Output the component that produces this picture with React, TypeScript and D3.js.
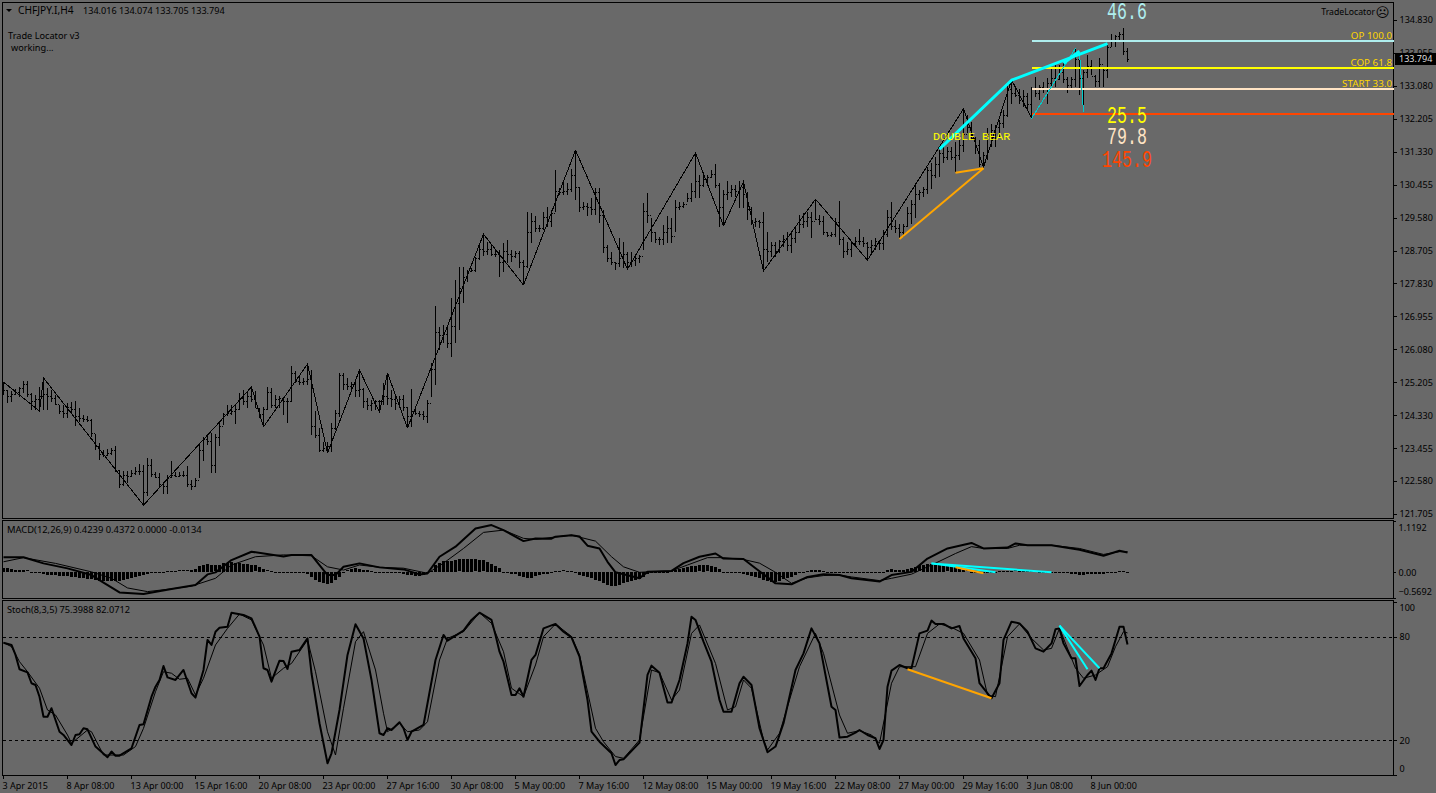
import * as d3 from "d3";
import React, { useEffect, useRef } from "react";

const WIDTH = 1436;
const HEIGHT = 793;
const BG = "#696969";
const UI_FONT = "'Noto Sans', sans-serif";
const MONO_FONT = "'Liberation Mono', monospace";

// H4 bars
const highs = [
	125.22,125.00,124.98,125.02,125.09,125.25,125.25,124.93,124.87,125.07,
	125.31,125.05,125.00,124.87,124.60,124.60,124.65,124.69,124.72,124.51,
	124.34,124.31,124.22,123.83,123.58,123.41,123.42,123.45,123.51,122.87,
	122.86,122.86,122.87,122.96,123.03,123.01,123.18,123.16,122.83,122.79,
	122.56,122.74,123.12,122.83,122.83,122.86,122.98,122.61,122.65,123.58,
	123.76,123.81,123.85,123.83,124.16,124.40,124.60,124.60,124.60,124.93,
	125.00,124.98,125.09,124.96,124.51,124.56,125.09,125.05,124.87,124.84,
	124.82,124.78,125.64,125.51,125.36,125.31,125.67,125.53,124.43,123.98,
	123.63,123.63,124.12,124.47,125.46,125.46,125.31,125.22,125.22,125.55,
	125.05,124.78,124.74,124.74,124.74,125.18,125.44,125.00,124.82,124.84,
	124.87,124.56,125.02,124.56,124.43,124.43,124.74,125.71,127.22,126.68,
	126.73,126.68,127.44,127.92,128.28,128.28,128.19,128.23,128.54,128.90,
	129.16,128.94,128.85,128.72,128.72,128.90,128.99,128.72,128.70,128.70,
	128.45,129.74,129.71,129.61,129.39,129.74,129.87,129.78,130.85,130.36,
	130.49,130.49,130.86,131.38,130.40,130.00,129.96,130.09,130.36,130.36,
	129.78,128.85,128.67,128.41,129.03,128.94,128.67,128.67,128.59,128.59,
	129.96,130.23,129.56,129.21,129.07,129.39,129.61,129.56,130.05,130.00,
	130.00,130.23,130.49,131.29,130.71,130.76,130.71,130.85,131.01,130.49,
	130.32,130.54,130.45,130.45,130.54,130.58,130.27,129.87,129.56,129.52,
	129.72,129.21,128.94,128.94,128.99,129.12,129.21,129.16,129.30,129.65,
	129.70,129.74,129.74,130.07,129.65,129.61,129.21,129.21,129.56,130.03,
	129.07,128.94,128.94,129.07,129.28,129.07,128.94,128.98,129.03,128.98,
	129.25,129.78,130.00,129.51,129.42,129.42,129.87,130.04,130.49,130.31,
	130.40,130.93,131.02,131.20,131.37,131.46,131.46,131.46,131.59,131.64,
	132.45,132.30,132.13,131.73,131.64,131.33,131.95,132.08,132.04,132.17,
	132.44,133.15,133.23,133.06,133.01,132.97,132.88,133.06,133.32,133.10,
	133.19,133.28,133.54,133.63,133.63,133.72,133.32,133.32,134.08,133.99,
	133.50,133.90,133.77,133.37,133.81,133.54,134.16,134.47,134.43,134.52,
	134.61,134.074,
];
const lows = [
	124.87,124.66,124.69,124.87,124.81,124.91,124.81,124.47,124.47,124.43,
	124.47,124.47,124.69,124.60,124.36,124.25,124.25,124.36,124.03,124.16,
	124.16,124.16,123.76,123.41,123.14,123.21,123.25,123.27,122.83,122.39,
	122.45,122.52,122.70,122.74,122.74,121.94,122.17,122.70,122.65,122.43,
	122.24,122.24,122.65,122.68,122.68,122.68,122.43,122.33,122.43,122.65,
	123.10,123.54,122.80,122.79,123.51,124.07,124.31,124.34,124.10,124.47,
	124.60,124.51,124.69,124.51,124.25,124.01,124.47,124.51,124.51,124.51,
	124.34,124.13,124.69,125.18,125.13,125.13,125.13,123.81,123.72,123.36,
	123.36,123.32,123.34,123.94,124.29,125.00,125.00,125.00,124.82,124.82,
	124.51,124.47,124.45,124.47,124.43,124.60,124.60,124.56,124.47,124.51,
	124.43,123.98,124.01,124.34,124.29,124.20,124.12,124.82,125.13,126.06,
	126.24,126.11,125.87,126.24,126.59,127.30,127.88,128.14,128.14,128.45,
	128.56,128.59,128.56,128.54,128.01,128.14,128.37,128.41,128.50,128.23,
	127.79,128.23,128.90,129.21,129.21,129.25,129.34,129.34,129.74,130.18,
	130.18,130.18,130.27,130.05,129.74,129.78,129.61,129.65,129.65,129.43,
	128.63,128.41,128.32,128.19,128.28,128.23,128.21,128.28,128.30,128.37,
	128.72,129.43,128.94,128.90,128.85,128.85,128.90,128.90,129.21,129.78,
	129.83,130.00,130.00,130.09,130.09,130.40,130.45,130.63,130.36,129.34,
	129.36,130.05,130.14,130.14,129.83,129.83,129.52,129.39,129.34,129.30,
	128.14,128.41,128.54,128.54,128.63,128.81,128.68,128.63,128.90,129.16,
	129.30,129.34,129.03,129.52,129.39,129.12,129.07,129.07,129.07,128.85,
	128.50,128.59,128.54,128.85,128.85,128.81,128.45,128.63,128.72,128.72,
	128.72,129.07,129.25,129.16,129.03,129.07,129.34,129.42,129.56,130.04,
	130.13,130.22,130.35,130.62,130.66,131.02,131.11,131.11,130.80,131.11,
	131.33,131.82,131.64,131.28,130.93,130.93,131.11,131.46,131.46,131.73,
	131.95,132.26,132.61,132.79,132.61,132.53,132.44,132.21,132.79,132.70,
	132.88,132.61,133.01,133.06,133.23,133.15,132.88,132.97,133.06,132.83,
	132.39,133.28,133.37,133.06,133.06,133.06,133.28,134.12,134.12,134.25,
	133.90,133.705,
];
const closes = [
	125.00,124.85,124.90,124.95,125.05,125.15,124.90,124.70,124.75,124.85,
	124.90,124.85,124.80,124.62,124.45,124.40,124.55,124.50,124.30,124.25,
	124.22,124.20,123.85,123.50,123.30,123.28,123.32,123.40,122.87,122.50,
	122.75,122.72,122.80,122.85,122.85,122.30,123.00,122.78,122.68,122.50,
	122.45,122.70,122.75,122.72,122.75,122.75,122.50,122.45,122.60,123.40,
	123.70,123.65,123.00,123.75,124.05,124.35,124.40,124.45,124.50,124.80,
	124.70,124.85,124.75,124.52,124.35,124.50,124.95,124.60,124.75,124.78,
	124.70,124.70,125.45,125.25,125.20,125.25,125.30,124.05,123.80,123.40,
	123.45,123.50,124.00,124.40,125.40,125.15,125.10,125.15,125.00,125.02,
	124.70,124.60,124.65,124.70,124.70,124.85,124.80,124.75,124.65,124.75,
	124.55,124.30,124.45,124.40,124.35,124.30,124.65,125.55,126.55,126.45,
	126.50,126.25,126.70,127.30,127.70,128.00,128.15,128.18,128.50,128.75,
	128.70,128.75,128.60,128.60,128.40,128.70,128.60,128.55,128.65,128.40,
	128.30,129.20,129.50,129.30,129.30,129.60,129.50,129.70,130.30,130.25,
	130.30,130.35,130.70,130.40,129.85,129.90,129.85,129.80,130.25,129.65,
	128.80,128.50,128.40,128.38,128.50,128.60,128.40,128.45,128.50,128.55,
	129.75,129.65,129.20,129.00,129.00,129.20,129.30,129.10,129.85,129.90,
	129.95,130.10,130.30,130.55,130.45,130.60,130.65,130.75,130.45,129.85,
	130.20,130.25,130.35,130.30,130.40,130.20,129.80,129.45,129.48,129.45,
	128.75,128.70,128.85,128.70,128.95,129.00,128.85,129.05,129.20,129.40,
	129.50,129.60,129.50,129.55,129.50,129.20,129.12,129.15,129.45,129.00,
	128.70,128.75,128.90,128.95,128.95,128.90,128.80,128.85,128.95,128.90,
	129.15,129.60,129.35,129.30,129.20,129.35,129.70,129.95,130.20,130.25,
	130.35,130.85,130.70,131.00,131.30,131.20,131.35,131.20,131.25,131.50,
	131.80,132.00,131.70,131.50,131.00,131.25,131.80,131.90,132.00,132.10,
	132.30,133.00,132.90,132.85,132.70,132.80,132.60,133.00,132.90,133.05,
	133.00,133.15,133.30,133.25,133.45,133.25,133.10,133.25,133.80,133.30,
	133.45,133.60,133.35,133.20,133.65,133.50,134.10,134.30,134.40,134.45,
	134.016,133.794,
];
// each H4 bar opens where the previous one closed
const opens = [125.10, ...closes.slice(0, -1)];

const priceTicks = [134.83,133.955,133.08,132.205,131.33,130.455,129.58,128.705,127.83,126.955,126.08,125.205,124.33,123.455,122.58,121.705];

const zigBars = [0,9,10,35,62,65,76,81,89,94,96,101,120,130,143,156,173,180,185,190,203,216,240,245,252,257];
const zigPrices = [125.21,124.44,125.32,121.94,125.08,124.02,125.69,123.33,125.53,124.41,125.45,123.99,129.14,127.79,131.37,128.21,131.30,129.36,130.53,128.16,130.07,128.45,132.47,130.92,133.24,132.23];

// MACD panel
const macdBars = [0,5,10,16,22,25,29,35,42,48,51,53,57,62,70,72,77,81,83,85,89,94,100,104,106,109,113,118,122,125,130,133,137,138,142,144,146,149,151,153,159,161,167,170,174,178,180,185,188,193,197,201,205,209,212,219,222,227,231,236,242,245,251,253,256,262,269,275,279,281];
const macdValues = [0.32,0.32,0.185,0.076,-0.07,-0.236,-0.447,-0.483,-0.374,-0.287,-0.055,-0.011,0.257,0.439,0.337,0.366,0.366,-0.07,-0.07,0.112,0.185,0.098,0.054,-0.055,-0.033,0.33,0.548,0.947,1.02,0.91,0.67,0.729,0.722,0.766,0.80,0.77,0.57,0.51,0.22,-0.01,-0.14,0.0,0.02,0.19,0.33,0.40,0.29,0.28,0.08,-0.25,-0.27,-0.11,-0.05,-0.07,-0.14,-0.21,-0.07,0.0,0.29,0.51,0.63,0.51,0.53,0.62,0.58,0.58,0.48,0.35,0.46,0.4239];
const signalBars = [0,5,13,22,27,31,36,42,47,53,57,63,70,77,81,85,89,94,100,106,110,115,120,125,130,133,142,148,152,155,159,161,167,171,176,180,185,189,193,197,201,205,209,212,219,222,227,233,238,242,245,251,254,262,269,275,279,281];
const signalValues = [0.22,0.31,0.185,0.0,-0.14,-0.35,-0.43,-0.37,-0.31,-0.14,0.15,0.33,0.37,0.35,0.11,0.04,0.15,0.10,0.08,-0.03,0.19,0.51,0.86,0.91,0.73,0.71,0.80,0.67,0.33,0.11,-0.01,0.0,0.02,0.15,0.31,0.31,0.27,0.19,-0.01,-0.25,-0.13,-0.08,-0.07,-0.11,-0.19,-0.14,-0.05,0.19,0.40,0.55,0.51,0.51,0.58,0.58,0.51,0.38,0.44,0.4372];
const macdHist = [
	0.08,0.08,0.07,0.05,0.05,0.04,0.03,-0.01,-0.02,-0.03,
	-0.05,-0.06,-0.06,-0.07,-0.08,-0.08,-0.08,-0.1,-0.11,-0.12,
	-0.14,-0.15,-0.16,-0.18,-0.2,-0.2,-0.2,-0.2,-0.19,-0.19,
	-0.18,-0.16,-0.13,-0.11,-0.09,-0.07,-0.05,-0.03,-0.01,-0.01,
	0,0.01,0.02,0.02,0.03,0.03,0.03,0.04,0.07,0.12,
	0.16,0.17,0.15,0.14,0.16,0.19,0.2,0.22,0.2,0.19,
	0.18,0.17,0.16,0.14,0.1,0.06,0.03,0.02,0,-0.02,
	-0.03,-0.03,-0.03,-0.02,-0.02,-0.02,-0.05,-0.1,-0.17,-0.22,
	-0.25,-0.26,-0.24,-0.18,-0.1,-0.03,0.03,0.07,0.08,0.06,
	0.05,0.04,0.02,0,-0.01,-0.02,-0.03,-0.03,-0.03,-0.03,
	-0.04,-0.06,-0.07,-0.08,-0.08,-0.06,-0.03,0.02,0.15,0.2,
	0.23,0.24,0.24,0.26,0.27,0.28,0.28,0.28,0.27,0.26,
	0.25,0.22,0.17,0.12,0.08,-0.01,-0.02,-0.04,-0.05,-0.08,
	-0.1,-0.12,-0.12,-0.08,-0.06,-0.05,-0.04,-0.02,0.01,0.02,
	0.03,0.02,0.01,-0.01,-0.06,-0.08,-0.1,-0.13,-0.17,-0.2,
	-0.24,-0.28,-0.3,-0.3,-0.28,-0.25,-0.22,-0.2,-0.18,-0.15,
	-0.1,-0.04,0,0,0,0,0,0.02,0.04,0.06,
	0.08,0.1,0.12,0.13,0.14,0.15,0.14,0.13,0.11,0.06,
	-0.01,-0.02,-0.02,-0.02,-0.03,-0.05,-0.07,-0.09,-0.1,-0.12,
	-0.18,-0.2,-0.22,-0.22,-0.2,-0.16,-0.12,-0.1,-0.06,-0.03,
	-0.01,0.02,0.04,0.05,0.04,0.02,0,-0.02,-0.03,-0.03,
	-0.03,-0.03,-0.03,-0.03,-0.03,-0.03,-0.03,-0.03,-0.03,-0.03,
	-0.02,0.05,0.06,0.05,0.05,0.05,0.06,0.08,0.1,0.14,
	0.16,0.18,0.18,0.17,0.16,0.15,0.14,0.13,0.1,0.08,
	0.05,0.03,0,-0.01,0,0,0,-0.01,-0.01,0.02,
	0.02,0.02,0.02,0.03,0.02,0.02,0.01,0.01,0.01,0,
	0,0,-0.01,-0.01,-0.02,-0.02,-0.03,-0.04,-0.05,-0.06,
	-0.07,-0.05,-0.05,-0.05,-0.05,-0.05,-0.03,-0.01,0,0.01,
	0.01,-0.0134,
];
const macdAxisTicks = [1.1192,0,-0.5692];

// Stochastic panel
const stochBars = [0,2,3,4,6,7,8,9,10,11,12,14,15,17,18,19,20,21,23,26,27,28,29,32,34,35,37,38,39,40,41,43,45,47,48,50,51,52,53,54,56,57,60,62,64,65,66,67,69,70,71,72,74,76,77,79,81,82,84,86,88,90,92,94,95,96,97,99,100,101,102,105,108,110,111,115,117,119,122,123,124,125,127,128,129,130,132,133,135,138,140,142,144,146,147,149,152,153,154,155,159,161,162,164,166,167,169,171,172,173,175,177,179,180,182,184,185,187,189,191,193,195,198,200,202,204,207,208,209,211,213,214,216,218,219,220,221,222,224,226,227,229,231,232,233,235,237,239,240,243,244,247,249,250,252,254,256,258,260,262,263,264,265,267,268,269,271,272,273,274,275,277,279,280,281];
const stochValues = [76.4,75.1,69.3,61.0,59.2,52.9,51.9,45.1,33.5,33.5,38.4,24.8,22.9,17.1,22.9,23.3,26.8,26.2,16.2,10.0,13.3,10.9,10.9,15.2,28.7,29.1,45.1,50.9,54.8,62.9,56.3,54.8,60.6,47.1,44.6,60.6,78.0,75.1,82.8,85.1,85.7,93.8,92.5,90.5,79.9,61.6,60.6,53.8,66.0,65.8,61.2,71.2,72.2,78.9,58.7,29.7,6.5,12.3,37.4,69.3,87.1,78.9,54.8,23.9,22.9,26.8,25.8,30.3,26.8,20.0,24.8,28.7,66.4,80.9,77.6,83.4,89.6,93.8,89.6,80.9,71.2,65.4,46.1,46.1,50.0,45.1,66.4,69.3,84.7,87.3,82.8,79.5,68.3,43.2,24.8,19.0,12.3,5.5,8.4,8.8,18.5,57.7,63.1,59.0,41.7,41.7,54.8,76.0,91.5,89.6,77.0,65.4,43.2,36.4,36.4,52.9,56.7,51.9,26.8,12.9,16.2,29.7,60.6,70.2,84.7,76.0,39.3,37.4,21.4,21.9,24.3,25.8,22.9,21.0,14.8,20.0,50.9,60.2,63.5,61.6,61.6,81.8,83.4,89.2,87.3,87.3,84.7,86.1,78.9,67.4,52.9,44.2,52.9,78.0,88.6,87.6,82.8,73.1,71.2,76.0,84.2,84.7,76.0,67.4,67.4,51.3,57.7,60.2,54.8,61.6,61.6,70.2,85.7,85.7,75.3988];
const stochSignalBars = [0,2,4,6,9,11,13,16,17,21,22,25,30,33,35,38,40,42,44,46,48,50,53,56,59,62,65,67,70,72,76,78,81,83,85,88,90,93,95,96,99,101,104,106,109,111,115,119,122,125,127,130,133,135,138,142,144,148,150,153,155,159,162,164,167,169,172,174,178,181,183,185,187,190,191,194,199,203,205,209,211,214,217,219,222,224,228,231,234,237,240,244,246,248,251,254,257,260,262,264,268,270,273,276,278,280,281];
const stochSignalValues = [76.4,74.1,65.4,59.6,50.0,37.4,34.5,22.9,18.1,25.8,24.8,11.3,11.3,16.2,26.8,48.0,59.6,58.7,55.2,55.8,46.1,55.8,75.1,84.7,93.0,89.6,75.1,55.8,61.6,64.4,78.0,59.6,24.8,11.3,38.4,77.0,82.8,60.6,35.5,24.8,29.7,24.8,25.8,30.6,66.4,78.9,82.8,93.8,87.6,71.2,50.0,45.1,63.5,79.9,87.3,80.0,69.3,26.8,19.0,10.4,9.4,20.0,60.6,59.0,43.2,49.0,81.8,86.7,64.4,37.4,39.3,54.8,50.0,20.0,14.2,23.9,62.5,81.8,70.2,34.5,23.9,25.4,22.9,18.1,52.9,62.5,62.5,81.8,87.3,85.3,81.8,66.4,46.1,45.1,79.9,87.3,78.9,72.2,73.1,84.7,61.6,55.8,57.7,62.5,74.1,82.8,82.0712];
const stochLevels = [80,20];
const stochAxisTicks = [100,80,20,0];

// Trade Locator marks: [bar, value] pairs of each segment
const cyanPriceBars = [234,252,276];
const cyanPriceValues = [131.40,133.23,134.20];
const cyanStubBars = [265,269];
const cyanStubValues = [133.68,134.0];
const thinCyanSegments = [
	{ bars: [257,268], values: [132.21,134.08] },
	{ bars: [269,270], values: [133.96,132.39] },
];
const orangePriceSegments = [
	{ bars: [224,245], values: [129.01,130.89] },
	{ bars: [238,245], values: [130.77,130.89] },
];
const macdCyanSegments = [
	{ bars: [232,262], values: [0.185,-0.01] },
	{ bars: [232,248], values: [0.185,-0.01] },
];
const macdOrangeBars = [238,245];
const macdOrangeValues = [0.10,-0.03];
const stochOrangeBars = [226,247];
const stochOrangeValues = [61,44.2];
const stochCyanSegments = [
	{ bars: [264,271], values: [86.3,61] },
	{ bars: [264,274], values: [86.3,61.6] },
];

const levelNames = ["OP 100.0","COP 61.8","START 33.0",""];
const levelPrices = [134.27,133.55,133.0,132.33];
const levelColors = ["#AFEEEE","#FFFF00","#FFE4C4","#FF4500"];
const bigLabels = ["46.6","25.5","79.8","145.9"];
const bigLabelY = [19,122.5,143.5,166.5];
const bigLabelColors = ["#AFEEEE","#FFFF00","#FFE4C4","#FF4500"];

const headerPrices = ["134.016","134.074","133.705","133.794"];
const timeLabels = ["3 Apr 2015","8 Apr 08:00","13 Apr 00:00","15 Apr 16:00","20 Apr 08:00","23 Apr 00:00","27 Apr 16:00","30 Apr 08:00","5 May 00:00","7 May 16:00","12 May 08:00","15 May 00:00","19 May 16:00","22 May 08:00","27 May 00:00","29 May 16:00","3 Jun 08:00","8 Jun 00:00"];
const barsPerLabel = 16;

const App = () => {
	const ref = useRef<SVGSVGElement>(null);

	useEffect(() => {
		if (!ref.current) return;
		const svg = d3.select(ref.current);
		svg.selectAll("*").remove();

		const x = d3.scaleLinear().domain([0, 281]).range([3, 1127]);
		const y = d3.scaleLinear().domain([121.705, 134.83]).range([514, 20]);
		const yMacd = d3.scaleLinear().domain([-0.5692, 1.1192]).range([598, 520.5]);
		const yStoch = d3.scaleLinear().domain([0, 100]).range([774.5, 602]);
		const rightEdge = 1393.5;

		const drawLine = (
			g: any,
			scale: any,
			bars: number[],
			values: number[],
			color: string,
			width: number,
			crisp = false
		) => {
			const line = d3
				.line<number>()
				.x((d) => x(bars[d]) + 0.5)
				.y((d) => scale(values[d]));
			g.append("path")
				.attr("d", line(d3.range(bars.length)))
				.attr("fill", "none")
				.attr("stroke", color)
				.attr("stroke-width", width)
				.attr("stroke-linejoin", "round")
				.attr("shape-rendering", crisp ? "crispEdges" : "auto");
		};

		// panel frames
		[
			[2.5, 518.5],
			[520.5, 598.5],
			[600.5, 775.5],
		].forEach(([top, bottom]) => {
			svg.append("rect")
				.attr("x", 2.5)
				.attr("y", top)
				.attr("width", rightEdge - 2.5)
				.attr("height", bottom - top)
				.attr("fill", "none")
				.attr("stroke", "#000")
				.attr("shape-rendering", "crispEdges");
		});

		// price bars
		const main = svg.append("g");
		const bars = main
			.selectAll("g.bar")
			.data(d3.range(highs.length))
			.enter()
			.append("g")
			.attr("class", "bar")
			.attr("stroke", "#000")
			.attr("shape-rendering", "crispEdges");
		bars.append("line")
			.attr("x1", (i) => Math.round(x(i)) + 0.5)
			.attr("x2", (i) => Math.round(x(i)) + 0.5)
			.attr("y1", (i) => y(highs[i]))
			.attr("y2", (i) => y(lows[i]));
		bars.append("line")
			.attr("x1", (i) => Math.round(x(i)) - 1)
			.attr("x2", (i) => Math.round(x(i)))
			.attr("y1", (i) => Math.round(y(opens[i])) + 0.5)
			.attr("y2", (i) => Math.round(y(opens[i])) + 0.5);
		bars.append("line")
			.attr("x1", (i) => Math.round(x(i)) + 1)
			.attr("x2", (i) => Math.round(x(i)) + 2)
			.attr("y1", (i) => Math.round(y(closes[i])) + 0.5)
			.attr("y2", (i) => Math.round(y(closes[i])) + 0.5);

		drawLine(main, y, zigBars, zigPrices, "#000", 1, true);

		// Trade Locator levels and marks
		levelPrices.forEach((price, i) => {
			main.append("line")
				.attr("x1", 1032)
				.attr("x2", rightEdge)
				.attr("y1", y(price))
				.attr("y2", y(price))
				.attr("stroke", levelColors[i])
				.attr("stroke-width", 2)
				.attr("shape-rendering", "crispEdges");
			main.append("text")
				.attr("x", 1392)
				.attr("y", y(price) - 2)
				.attr("text-anchor", "end")
				.attr("font-family", UI_FONT)
				.attr("font-size", 9.8)
				.attr("fill", "#FFD700")
				.text(levelNames[i]);
		});
		thinCyanSegments.forEach((s) => drawLine(main, y, s.bars, s.values, "#00CCCC", 1, true));
		drawLine(main, y, cyanPriceBars, cyanPriceValues, "#00FFFF", 3);
		drawLine(main, y, cyanStubBars, cyanStubValues, "#00FFFF", 3);
		orangePriceSegments.forEach((s) => drawLine(main, y, s.bars, s.values, "#FFA500", 2));

		bigLabels.forEach((label, i) => {
			main.append("text")
				.attr("transform", `translate(1127,${bigLabelY[i]}) scale(0.83,1.15)`)
				.attr("text-anchor", "middle")
				.attr("font-family", MONO_FONT)
				.attr("font-size", 20)
				.attr("fill", bigLabelColors[i])
				.text(label);
		});
		main.append("text")
			.attr("x", 933)
			.attr("y", 140)
			.attr("font-family", MONO_FONT)
			.attr("font-size", 11.7)
			.attr("fill", "#FFFF00")
			.text("DOUBLE BEAR");

		// MACD
		const macd = svg.append("g");
		macd.selectAll("rect")
			.data(macdHist)
			.enter()
			.append("rect")
			.attr("x", (_, i) => Math.round(x(i)) - 1)
			.attr("width", 3)
			.attr("y", (d) => Math.round(yMacd(Math.max(d, 0))))
			.attr("height", (d) => Math.max(1, Math.abs(yMacd(d) - yMacd(0))))
			.attr("fill", "#000")
			.attr("shape-rendering", "crispEdges");
		drawLine(macd, yMacd, signalBars, signalValues, "#000", 1);
		drawLine(macd, yMacd, macdBars, macdValues, "#000", 2);
		macdCyanSegments.forEach((s) => drawLine(macd, yMacd, s.bars, s.values, "#00FFFF", 2));
		drawLine(macd, yMacd, macdOrangeBars, macdOrangeValues, "#FFA500", 2);

		// Stochastic
		const stoch = svg.append("g");
		stochLevels.forEach((level) => {
			stoch.append("line")
				.attr("x1", 3)
				.attr("x2", rightEdge)
				.attr("y1", Math.round(yStoch(level)) + 0.5)
				.attr("y2", Math.round(yStoch(level)) + 0.5)
				.attr("stroke", "#000")
				.attr("stroke-dasharray", "3,3")
				.attr("shape-rendering", "crispEdges");
		});
		drawLine(stoch, yStoch, stochSignalBars, stochSignalValues, "#000", 1);
		drawLine(stoch, yStoch, stochBars, stochValues, "#000", 2);
		drawLine(stoch, yStoch, stochOrangeBars, stochOrangeValues, "#FFA500", 2);
		stochCyanSegments.forEach((s) => drawLine(stoch, yStoch, s.bars, s.values, "#00FFFF", 2));

		// axes
		const styleAxis = (g: any) => {
			g.attr("font-family", UI_FONT).attr("font-size", 9);
			g.select(".domain").remove();
			g.selectAll("line").attr("stroke", "#000").attr("shape-rendering", "crispEdges");
			g.selectAll("text").attr("fill", "#000");
		};
		svg.append("g")
			.attr("transform", `translate(${rightEdge},0)`)
			.call(d3.axisRight(y).tickValues(priceTicks).tickSize(3).tickPadding(3).tickFormat(d3.format(".3f") as any))
			.call(styleAxis);

		const macdAxis = svg
			.append("g")
			.attr("transform", `translate(${rightEdge},0)`)
			.call(
				d3.axisRight(yMacd)
					.tickValues(macdAxisTicks)
					.tickSize(2)
					.tickPadding(3)
					.tickFormat((d: any) => (d === 0 ? "0.00" : d3.format(".4f")(d)))
			)
			.call(styleAxis);
		// terminal keeps the end labels inside the panel
		macdAxis.selectAll("text").attr("dy", (d: any) => (d > 1 ? 9.5 : d < 0 ? -3.2 : 3.2));

		const stochAxis = svg
			.append("g")
			.attr("transform", `translate(${rightEdge},0)`)
			.call(d3.axisRight(yStoch).tickValues(stochAxisTicks).tickSize(3).tickPadding(3).tickFormat(d3.format("d") as any))
			.call(styleAxis);
		stochAxis.selectAll("text").attr("dy", (d: any) => (d === 100 ? 8 : d === 0 ? -3.2 : 3.2));

		const timeAxis = svg
			.append("g")
			.attr("transform", "translate(0,775.5)")
			.call(
				d3.axisBottom(x)
					.tickValues(timeLabels.map((_, i) => i * barsPerLabel))
					.tickSize(3)
					.tickPadding(4)
					.tickFormat((_: any, i: number) => timeLabels[i])
			)
			.call(styleAxis);
		timeAxis.selectAll("text").attr("text-anchor", "start").attr("dx", -1);

		// last price box
		svg.append("rect")
			.attr("x", 1395)
			.attr("y", y(closes[closes.length - 1]) - 6)
			.attr("width", 41)
			.attr("height", 12)
			.attr("fill", "#000");
		svg.append("text")
			.attr("x", 1399)
			.attr("y", y(closes[closes.length - 1]) + 3.2)
			.attr("font-family", UI_FONT)
			.attr("font-size", 9)
			.attr("fill", "#DDD")
			.text(d3.format(".3f")(closes[closes.length - 1]));

		// header texts
		svg.append("path").attr("d", "M6 9 L12 9 L9 12 Z").attr("fill", "#000");
		const label = (tx: number, ty: number, s: string, anchor = "start", size = 9.2) =>
			svg.append("text")
				.attr("x", tx)
				.attr("y", ty)
				.attr("text-anchor", anchor)
				.attr("font-family", UI_FONT)
				.attr("font-size", size)
				.attr("fill", "#000")
				.text(s);
		label(18, 14, "CHFJPY.I,H4", "start", 10.2);
		headerPrices.forEach((p, i) => label(83 + i * 36, 14, p, "start", 9.1));
		label(8, 39, "Trade Locator v3");
		label(11, 51, "working...");
		label(7, 533, "MACD(12,26,9) 0.4239 0.4372 0.0000 -0.0134", "start", 9.4);
		label(7, 613, "Stoch(8,3,5) 75.3988 82.0712");
		label(1375, 15, "TradeLocator", "end", 8.7);
		svg.append("text")
			.attr("x", 1382.5)
			.attr("y", 16.5)
			.attr("text-anchor", "middle")
			.attr("font-family", "'DejaVu Sans'")
			.attr("font-size", 13.5)
			.attr("fill", "#000")
			.text("\u2639");
	}, []);

	return (
		<svg
			ref={ref}
			width={WIDTH}
			height={HEIGHT}
			style={{ position: "absolute", left: 0, top: 0, backgroundColor: BG, display: "block" }}
		/>
	);
};

export default App;
